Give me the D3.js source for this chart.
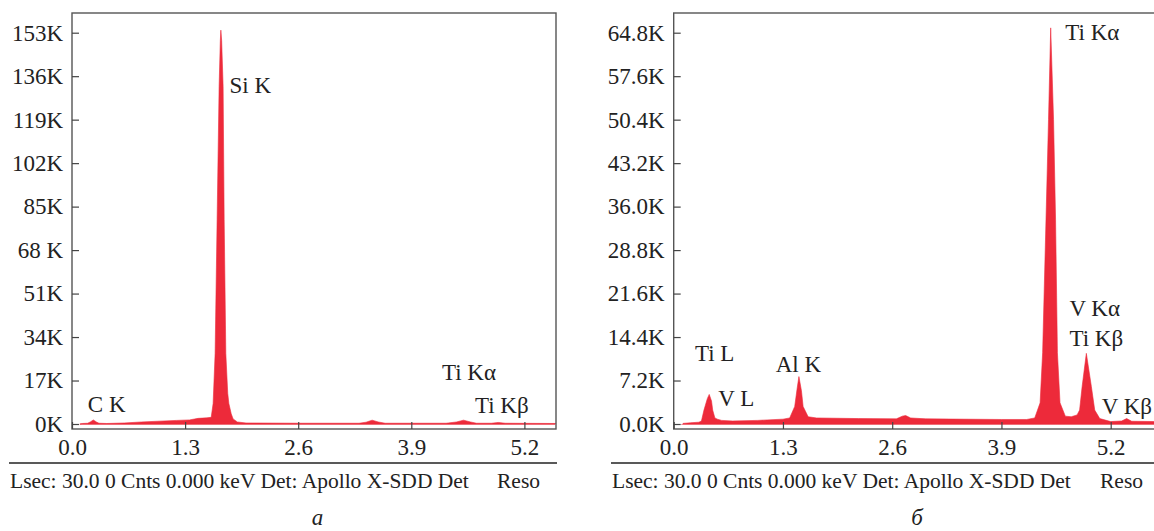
<!DOCTYPE html>
<html lang="en">
<head>
<meta charset="utf-8">
<script src="https://d3js.org/d3.v7.min.js"></script>
<title>EDS spectra</title>
<style>
    body { margin: 0; background: #fff; }
    text { font-family: "Liberation Serif", "Times New Roman", serif; fill: #222; }
</style>
</head>
<body>
<div id="container"></div>
<script>

// ---- panel a: energy (keV) and counts (K) ----
var aEnergy = [0.09, 0.12, 0.18, 0.21, 0.245, 0.28, 0.31, 0.4, 0.6, 0.8, 1.0, 1.2, 1.35, 1.45, 1.55, 1.6,
               1.622, 1.645, 1.668, 1.691, 1.705, 1.711, 1.72, 1.737, 1.749, 1.768, 1.79, 1.803, 1.83, 1.852,
               1.9, 2.0, 2.6, 3.3, 3.38, 3.45, 3.52, 3.6, 4.3, 4.42, 4.5, 4.58, 4.65, 4.82, 4.9, 4.98, 5.56];
var aCounts = [0, 0.2, 0.3, 0.8, 1.6, 0.8, 0.3, 0.2, 0.4, 0.8, 1.1, 1.4, 1.6, 2.2, 2.4, 2.6,
               8, 27.6, 80, 132, 150, 154, 150, 132, 80, 27.6, 12, 8, 4, 2,
               0.8, 0.4, 0.3, 0.3, 0.7, 1.5, 0.8, 0.3, 0.3, 0.8, 1.5, 0.8, 0.3, 0.3, 0.6, 0.3, 0.2];

// ---- panel b ----
var bEnergy = [0.11, 0.2, 0.3, 0.33, 0.36, 0.4, 0.423, 0.45, 0.464, 0.49, 0.52, 0.57, 0.7, 1.0, 1.3, 1.38,
               1.44, 1.47, 1.49, 1.52, 1.54, 1.6, 1.7, 2.2, 2.65, 2.72, 2.76, 2.82, 3.0, 3.9, 4.2,
               4.296, 4.36, 4.39, 4.43, 4.46, 4.486, 4.52, 4.544, 4.566, 4.597, 4.66, 4.73,
               4.8, 4.83, 4.86, 4.91, 4.97, 5.01, 5.07, 5.2, 5.33, 5.39, 5.45, 5.75];
var bCounts = [0.1, 0.2, 0.3, 0.5, 2.3, 4.2, 4.9, 3.8, 2.3, 1.0, 0.8, 0.6, 0.5, 0.6, 0.8, 1.0,
               2.9, 6.0, 7.85, 5.5, 2.9, 1.2, 1.0, 0.9, 0.85, 1.3, 1.4, 1.0, 0.85, 0.75, 0.75,
               1.0, 3.5, 11.8, 33.8, 50.4, 65.6, 50.4, 33.8, 11.8, 3.5, 1.3, 1.2,
               1.5, 2.3, 6.2, 11.7, 6.2, 2.3, 0.9, 0.4, 0.5, 0.9, 0.45, 0.4];

// axis ticks
var xTicks = [0, 1.3, 2.6, 3.9, 5.2];
var aYTicks = [0, 17, 34, 51, 68, 85, 102, 119, 136, 153];
var aYLabels = ["0K", "17K", "34K", "51K", "68 K", "85K", "102K", "119K", "136K", "153K"];
var bYTicks = [0, 7.2, 14.4, 21.6, 28.8, 36.0, 43.2, 50.4, 57.6, 64.8];
var bYLabels = ["0.0K", "7.2K", "14.4K", "21.6K", "28.8K", "36.0K", "43.2K", "50.4K", "57.6K", "64.8K"];

// peak names and where they sit (keV, K counts)
var aPeakNames = ["Si K", "C K", "Ti K\u03b1", "Ti K\u03b2"];
var aPeakKeV = [1.811, 0.182, 4.252, 4.632];
var aPeakK = [129.4, 4.6, 17.3, 4.2];
var bPeakNames = ["Ti K\u03b1", "V K\u03b1", "Ti K\u03b2", "Ti L", "V L", "Al K", "V K\u03b2"];
var bPeakKeV = [4.66, 4.709, 4.709, 0.253, 0.531, 1.214, 5.093];
var bPeakK = [63.65, 17.95, 12.96, 10.51, 2.98, 8.67, 1.66];

var footer = "Lsec: 30.0 0 Cnts 0.000 keV Det: Apollo X-SDD Det";

var red = "#ed2a3a";
var svg = d3.select("#container")
    .append("svg")
    .attr("width", 1154)
    .attr("height", 531);

function drawPanel(p) {
    var x = d3.scaleLinear().domain([0, 5.2]).range([p.x0, p.x52]);
    var y = d3.scaleLinear().domain([0, p.yTicks[p.yTicks.length - 1]]).range([424, 32.7]);
    var top = 13, bottom = 429;
    var g = svg.append("g");

    var pts = p.energy.map(function(e, i) { return [e, p.counts[i]]; });

    // thin baseline across the plot
    g.append("line")
        .attr("x1", x(0.09)).attr("x2", p.right - 1)
        .attr("y1", y(0) + 0.5).attr("y2", y(0) + 0.5)
        .attr("stroke", "#f08a92").attr("stroke-width", 1);

    g.append("path")
        .datum(pts)
        .attr("d", d3.area()
            .x(function(d) { return x(d[0]); })
            .y0(y(0))
            .y1(function(d) { return y(d[1]); }))
        .attr("fill", red)
        .attr("stroke", red)
        .attr("stroke-width", 0.6);

    // frame
    g.append("rect")
        .attr("x", x(0)).attr("y", top)
        .attr("width", p.right - x(0)).attr("height", bottom - top)
        .attr("fill", "none").attr("stroke", "#555").attr("stroke-width", 1.4);

    var yAxis = g.append("g")
        .attr("transform", "translate(" + x(0) + ",0)")
        .call(d3.axisLeft(y).tickValues(p.yTicks).tickSize(-7).tickPadding(9)
            .tickFormat(function(d, i) { return p.yLabels[i]; }));
    var xAxis = g.append("g")
        .attr("transform", "translate(0," + bottom + ")")
        .call(d3.axisBottom(x).tickValues(xTicks).tickSize(-7).tickPadding(10)
            .tickFormat(d3.format(".1f")));
    [yAxis, xAxis].forEach(function(a) {
        a.attr("font-family", null).attr("font-size", 23);
        a.select(".domain").remove();
        a.selectAll("line").attr("stroke", "#444").attr("stroke-width", 1.2);
        a.selectAll("text").attr("fill", "#222");
    });

    g.selectAll(".peak")
        .data(p.peakNames)
        .enter()
        .append("text")
        .attr("class", "peak")
        .attr("x", function(d, i) { return x(p.peakKeV[i]); })
        .attr("y", function(d, i) { return y(p.peakK[i]); })
        .attr("font-size", 23)
        .text(function(d) { return d; });

    // footer strip
    g.append("line")
        .attr("x1", p.footX - 1).attr("x2", p.right + 1)
        .attr("y1", 463).attr("y2", 463)
        .attr("stroke", "#222").attr("stroke-width", 1.3);
    g.append("text").attr("x", p.footX).attr("y", 488).attr("font-size", 21.5).text(footer);
    g.append("text").attr("x", p.resoX).attr("y", 488).attr("font-size", 21.5).text("Reso");

    g.append("text")
        .attr("x", p.capX).attr("y", 525)
        .attr("text-anchor", "middle")
        .attr("font-size", 23)
        .attr("font-style", "italic")
        .text(p.caption);
}

drawPanel({x0: 72, x52: 524.4, right: 556, energy: aEnergy, counts: aCounts,
    yTicks: aYTicks, yLabels: aYLabels, peakNames: aPeakNames, peakKeV: aPeakKeV, peakK: aPeakK,
    footX: 10, resoX: 497, capX: 317.5, caption: "\u0430"});
drawPanel({x0: 673.7, x52: 1110.7, right: 1170, energy: bEnergy, counts: bCounts,
    yTicks: bYTicks, yLabels: bYLabels, peakNames: bPeakNames, peakKeV: bPeakKeV, peakK: bPeakK,
    footX: 612, resoX: 1100, capX: 917, caption: "\u0431"});

</script>
</body>
</html>
